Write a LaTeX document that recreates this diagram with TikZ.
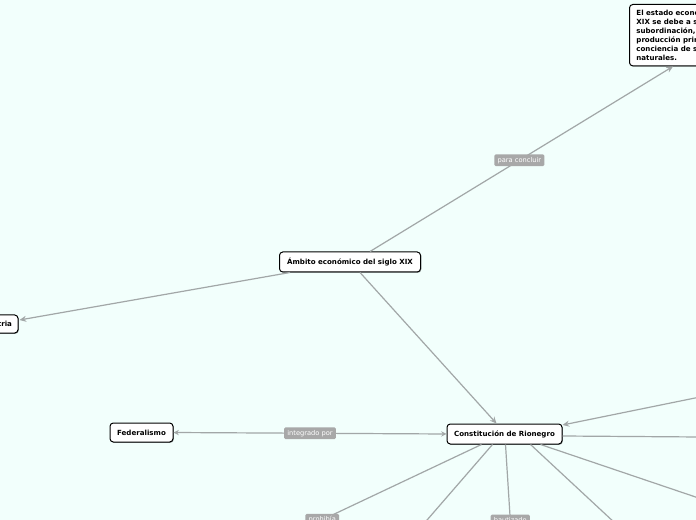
\documentclass[tikz,border=0pt]{standalone}
\usepackage{fontspec}
\setmainfont{DejaVu Sans}
\usetikzlibrary{arrows.meta,shadows,calc}
\definecolor{bgc}{HTML}{F2FFFC}
\definecolor{edgec}{HTML}{A2A7A7}
\definecolor{lblc}{HTML}{A8A8A8}
\begin{document}
\begin{tikzpicture}[x=0.75pt,y=-0.75pt,
  topic/.style={draw=black, line width=0.75pt, fill=white, rounded corners=2.5pt,
    font=\fontsize{5.3}{6.75}\selectfont\bfseries, inner sep=0pt,
    drop shadow={shadow xshift=0.6pt,shadow yshift=-0.6pt,opacity=0.35,fill=black}},
  conn/.style={draw=edgec, line width=0.9pt, -{Stealth[length=5pt,width=4.5pt]}},
  conn2/.style={draw=edgec, line width=0.9pt, {Stealth[length=4pt,width=4pt]}-{Stealth[length=4pt,width=4pt]}},
  plain/.style={draw=edgec, line width=0.9pt},
  lbl/.style={fill=lblc, text=white, font=\fontsize{5}{6}\selectfont, rounded corners=1pt,
    inner xsep=2.4pt, inner ysep=1.9pt}]
\useasboundingbox (0,0) rectangle (696,520);
\fill[bgc] (0,0) rectangle (696,520);
\clip (0,0) rectangle (696,520);

% nodes
\node[topic, minimum width=105.75pt, minimum height=15pt] (amb) at (350,262) {Ámbito económico del siglo XIX};
\node[topic, minimum width=36pt, minimum height=13.5pt] (ria) at (-6,324) {Industria};
\node[topic, minimum width=47.25pt, minimum height=14.25pt] (fed) at (141.5,432.5) {Federalismo};
\node[topic, minimum width=86.25pt, minimum height=15pt] (con) at (504.5,434) {Constitución de Rionegro};
\node[topic, anchor=north west, align=left, inner xsep=5.2pt, inner ysep=4pt, minimum height=45.75pt] (concl) at (629,4)
  {El estado económico del siglo\\XIX se debe a su falta de\\subordinación, a la\\producción primaria y a la\\conciencia de sus recursos\\naturales.};

% free ends
\coordinate (r1) at (700,397);
\coordinate (r2) at (700,437);
\coordinate (r3) at (700,498.5);
\coordinate (r4) at (616,524);
\coordinate (r5) at (515,595);
\coordinate (r6) at (421,527);
\coordinate (r7) at (163,595);

% connectors
\draw[conn] ($(amb.north)+(20,0)$) -- node[lbl, pos=0.493] {para concluir} ($(concl.south west)+(44,0)$);
\draw[conn] ($(amb.south west)+(11,0)$) -- ($(ria.east)+(1,-4)$);
\draw[conn] ($(amb.south)+(10,0)$) -- ($(con.north)+(-8,0)$);
\draw[conn2] (con.west) -- node[lbl, pos=0.50] {integrado por} (fed.east);
\draw[conn] (r1) -- ($(con.east)+(0,-9)$);
\draw[plain] ($(con.east)+(0,2)$) -- (r2);
\draw[plain] ($(con.south east)+(-22,0)$) -- (r3);
\draw[plain] ($(con.south)+(26,0)$) -- (r4);
\draw[plain] ($(con.south)+(1,0)$) -- node[lbl, pos=0.5] {bautizado} (r5);
\draw[plain] ($(con.south)+(-12,0)$) -- (r6);
\draw[plain] ($(con.south)+(-23,0)$) -- node[lbl, pos=0.5] {prohibía} (r7);
\end{tikzpicture}
\end{document}
